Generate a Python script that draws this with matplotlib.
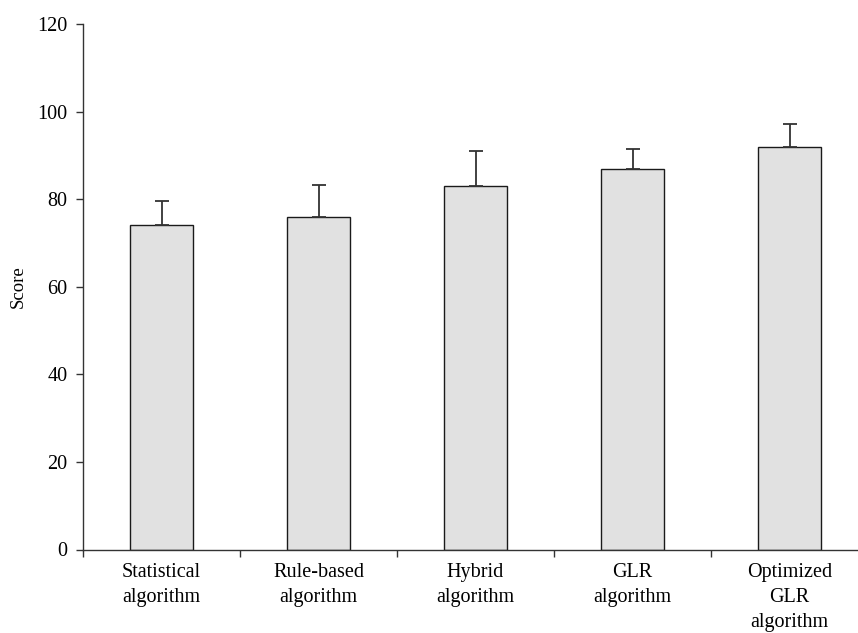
import matplotlib
matplotlib.use("Agg")
import matplotlib.pyplot as plt
import numpy as np

categories = ["Statistical\nalgorithm", "Rule-based\nalgorithm", "Hybrid\nalgorithm",
              "GLR\nalgorithm", "Optimized\nGLR\nalgorithm"]
scores = [74, 76, 83, 87, 92]
errors = [5.6, 7.2, 8.0, 4.4, 5.1]
yticks = [0, 20, 40, 60, 80, 100, 120]

plt.rcParams["font.family"] = ["Liberation Serif", "DejaVu Serif"]

fig = plt.figure(figsize=(8.58, 6.33), dpi=100)
ax = fig.add_axes([83 / 858, 83.5 / 633, 785 / 858, 525.5 / 633])

x = np.arange(len(categories))
ax.bar(x, scores, width=0.4, color="#e1e1e1", edgecolor="#1a1a1a", linewidth=1.0,
       yerr=[np.zeros(len(errors)), errors], ecolor="#333333",
       error_kw=dict(elinewidth=1.3, capsize=5, capthick=1.3), zorder=2)

ax.set_xlim(-0.5, len(categories) - 0.5)
ax.set_ylim(0, 120)
ax.set_yticks(yticks)
ax.set_xticks(x)
ax.set_xticklabels(categories, fontsize=14.5, linespacing=1.42)
ax.set_xticks(np.arange(len(categories) + 1) - 0.5, minor=True)
ax.tick_params(axis="x", which="major", length=0, pad=10)
ax.tick_params(axis="x", which="minor", length=5, width=1, color="#333333", direction="out")
ax.tick_params(axis="y", length=5, width=1, color="#333333", labelsize=14.5, pad=6)
ax.set_ylabel("Score", fontsize=13.5)
ax.yaxis.set_label_coords(-0.072, 0.5)

for side in ("top", "right"):
    ax.spines[side].set_visible(False)
for side in ("left", "bottom"):
    ax.spines[side].set_linewidth(1.0)
    ax.spines[side].set_color("#333333")

fig.savefig("out.png", dpi=100)
